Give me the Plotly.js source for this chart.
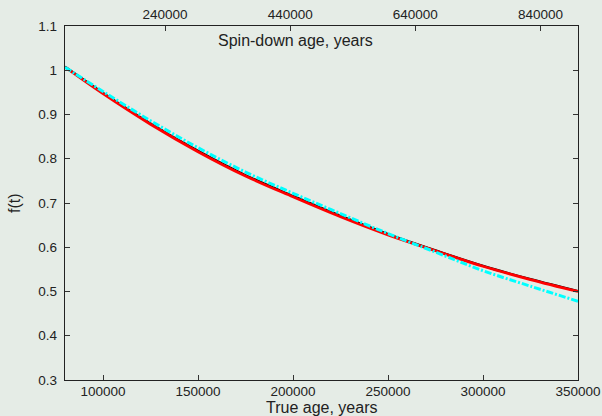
<!DOCTYPE html>
<html><head><meta charset="utf-8">
<script src="https://cdn.plot.ly/plotly-3.0.1.min.js"></script>
<style>html,body{margin:0;padding:0;background:#e5ece6;}#plot{width:602px;height:416px;}</style>
</head><body><div id="plot"></div>
<script>
const trueAge = [80000, 100000, 125000, 150000, 175000, 200000, 225000, 250000, 275000, 300000, 325000, 350000];
const fRed    = [1.007, 0.947, 0.878, 0.816, 0.761, 0.714, 0.669, 0.628, 0.592, 0.557, 0.527, 0.500];
const fBlack  = [1.008, 0.949, 0.880, 0.818, 0.763, 0.716, 0.671, 0.630, 0.593, 0.558, 0.528, 0.501];
const fCyan   = [1.007, 0.952, 0.886, 0.825, 0.770, 0.722, 0.676, 0.631, 0.589, 0.547, 0.512, 0.478];
const yTicks = [0.3, 0.4, 0.5, 0.6, 0.7, 0.8, 0.9, 1.0, 1.1];
const yTickText = ['0.3','0.4','0.5','0.6','0.7','0.8','0.9','1','1.1'];
const xTicks = [100000, 150000, 200000, 250000, 300000, 350000];
const topTicks = [240000, 440000, 640000, 840000];

const font = {family: 'Liberation Sans, Arial, sans-serif', size: 13.5, color: '#222'};
const tfont = {family: 'Liberation Sans, Arial, sans-serif', size: 16, color: '#222'};
const traces = [
  {x: trueAge, y: fBlack, mode: 'lines', line: {color: '#000', width: 2.2, shape: 'spline'}},
  {x: trueAge, y: fRed, mode: 'lines', line: {color: '#ff0000', width: 2.8, shape: 'spline'}},
  {x: trueAge, y: fCyan, mode: 'lines', line: {color: '#00ffff', width: 3, dash: '7px,2px,2px,2px', shape: 'spline'}},
  {x: topTicks, y: topTicks.map(() => null), xaxis: 'x2', yaxis: 'y', mode: 'lines', showlegend: false}
];
const layout = {
  width: 602, height: 416,
  margin: {l: 65, r: 24, t: 26, b: 36},
  paper_bgcolor: '#e5ece6', plot_bgcolor: '#e5ece6',
  showlegend: false, font: font,
  xaxis: {range: [80000, 350000], tickvals: xTicks, ticktext: xTicks.map(String),
    ticks: 'inside', ticklen: 5, tickcolor: '#333', showline: true, linecolor: '#222', linewidth: 1.3,
    mirror: true, showgrid: false, zeroline: false, tickfont: font, ticklabelstandoff: -2},
  xaxis2: {range: [80000, 900000], overlaying: 'x', side: 'top', anchor: 'y', tickvals: topTicks,
    ticktext: topTicks.map(String), ticks: 'inside', ticklen: 5, tickcolor: '#333',
    showline: true, linecolor: '#222', linewidth: 1.3, showgrid: false, zeroline: false, tickfont: font},
  yaxis: {range: [0.3, 1.1], tickvals: yTicks, ticktext: yTickText, ticks: 'inside', ticklen: 5,
    tickcolor: '#333', showline: true, linecolor: '#222', linewidth: 1.3, mirror: 'ticks',
    showgrid: false, zeroline: false, tickfont: font, ticklabelstandoff: 4},
  annotations: [
    {text: 'True age, years', xref: 'paper', yref: 'paper', x: 0.5, y: -0.0765, xanchor: 'center', yanchor: 'middle', showarrow: false, borderpad: 0, font: tfont},
    {text: 'f(t)', xref: 'paper', yref: 'paper', x: -0.0994, y: 0.5, textangle: -90, xanchor: 'center', yanchor: 'middle', showarrow: false, font: tfont},
    {text: 'Spin-down age, years', xref: 'paper', yref: 'paper', x: 0.45, y: 0.96, xanchor: 'center', yanchor: 'middle', showarrow: false, font: tfont}
  ]
};
Plotly.newPlot('plot', traces, layout, {staticPlot: true, displayModeBar: false});
</script></body></html>
